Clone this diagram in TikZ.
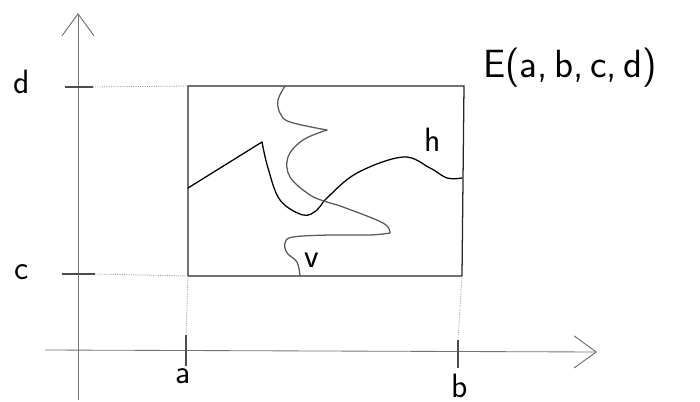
\documentclass[tikz,border=0pt]{standalone}
\usepackage{amsmath}
\usetikzlibrary{arrows.meta}
\usetikzlibrary{positioning}

\begin{document}
\begin{tikzpicture}[x=0.025cm,y=-0.025cm,
        axis/.style={draw=black!55,line width=0.6pt},
        guide/.style={draw=black!40,densely dotted,line width=0.6pt},
        tickline/.style={draw=black!70,line width=0.8pt},
        boxline/.style={draw=black!85,line width=0.9pt},
        curve/.style={line width=0.9pt,line cap=round,line join=round},
        lbl/.style={font=\sffamily\fontsize{24}{28}\selectfont,inner sep=0pt},
        barb/.style={-{Straight Barb[length=0.55cm,width=0.8cm,line width=0.7pt]}}]
            \useasboundingbox (0,0) rectangle (700,402);

            % axes
            \coordinate (ybot) at (78,400);
            \coordinate (ytop) at (78,13);
            \coordinate (xleft) at (45,350);
            \coordinate (xright) at (597,352);
            \draw[axis,barb] (ybot)--(ytop);
            \draw[axis,barb] (xleft)--(xright);

            % box corners
            \coordinate (A) at (188,276);
            \coordinate (B) at (462,276);
            \coordinate (C) at (464,86);
            \coordinate (D) at (188,86);
            \draw[boxline] (A)--(B)--(C)--(D)--cycle;

            % ticks
            \coordinate (d1) at (65,87);   \coordinate (d2) at (93,87);
            \coordinate (c1) at (62,274);  \coordinate (c2) at (95,274);
            \coordinate (a1) at (186,335); \coordinate (a2) at (186,366);
            \coordinate (b1) at (458,340); \coordinate (b2) at (458,368);
            \foreach \p in {d,c,a,b}{
                \draw[tickline] (\p1)--(\p2);
            }
            \draw[guide] (d2)--(D);
            \draw[guide] (c2)--(A);
            \draw[guide] (A)--(a1);
            \draw[guide] (B)--(b1);

            % labels
            \node[lbl] (lbld) at (22,82) {d};
            \node[lbl] (lblc) at (22,272) {c};
            \node[lbl] (lbla) at (183,376) {a};
            \node[lbl] (lblb) at (460,386) {b};
            \node[lbl,font=\sffamily\fontsize{28}{32}\selectfont,anchor=west] (lblE) at (483,68) {E(a,\,b,\,c,\,d)};
            \node[lbl] (lblh) at (433,140) {h};
            \node[lbl] (lblv) at (312,260) {v};

            % curve h
            \draw[curve,black] (188,188) -- plot[smooth,tension=0.6] coordinates {(262,142) (268,168) (280,200) (303,215) (317,210) (327,198) (357,173) (403,157) (430,168) (447,178) (462,178)};

            % curve v
            \draw[curve,black!65] plot[smooth,tension=0.6] coordinates {(285,86) (278,100) (280,113) (290,122) (327,130)};
            \draw[curve,black!65] plot[smooth,tension=0.6] coordinates {(327,130) (303,140) (288,157) (290,177) (310,195) (327,202) (343,207) (383,223) (390,233)};
            \draw[curve,black!65] plot[smooth,tension=0.6] coordinates {(390,233) (370,235) (330,235) (293,237) (285,243) (287,253) (297,262) (300,276)};
        \end{tikzpicture}
\end{document}
